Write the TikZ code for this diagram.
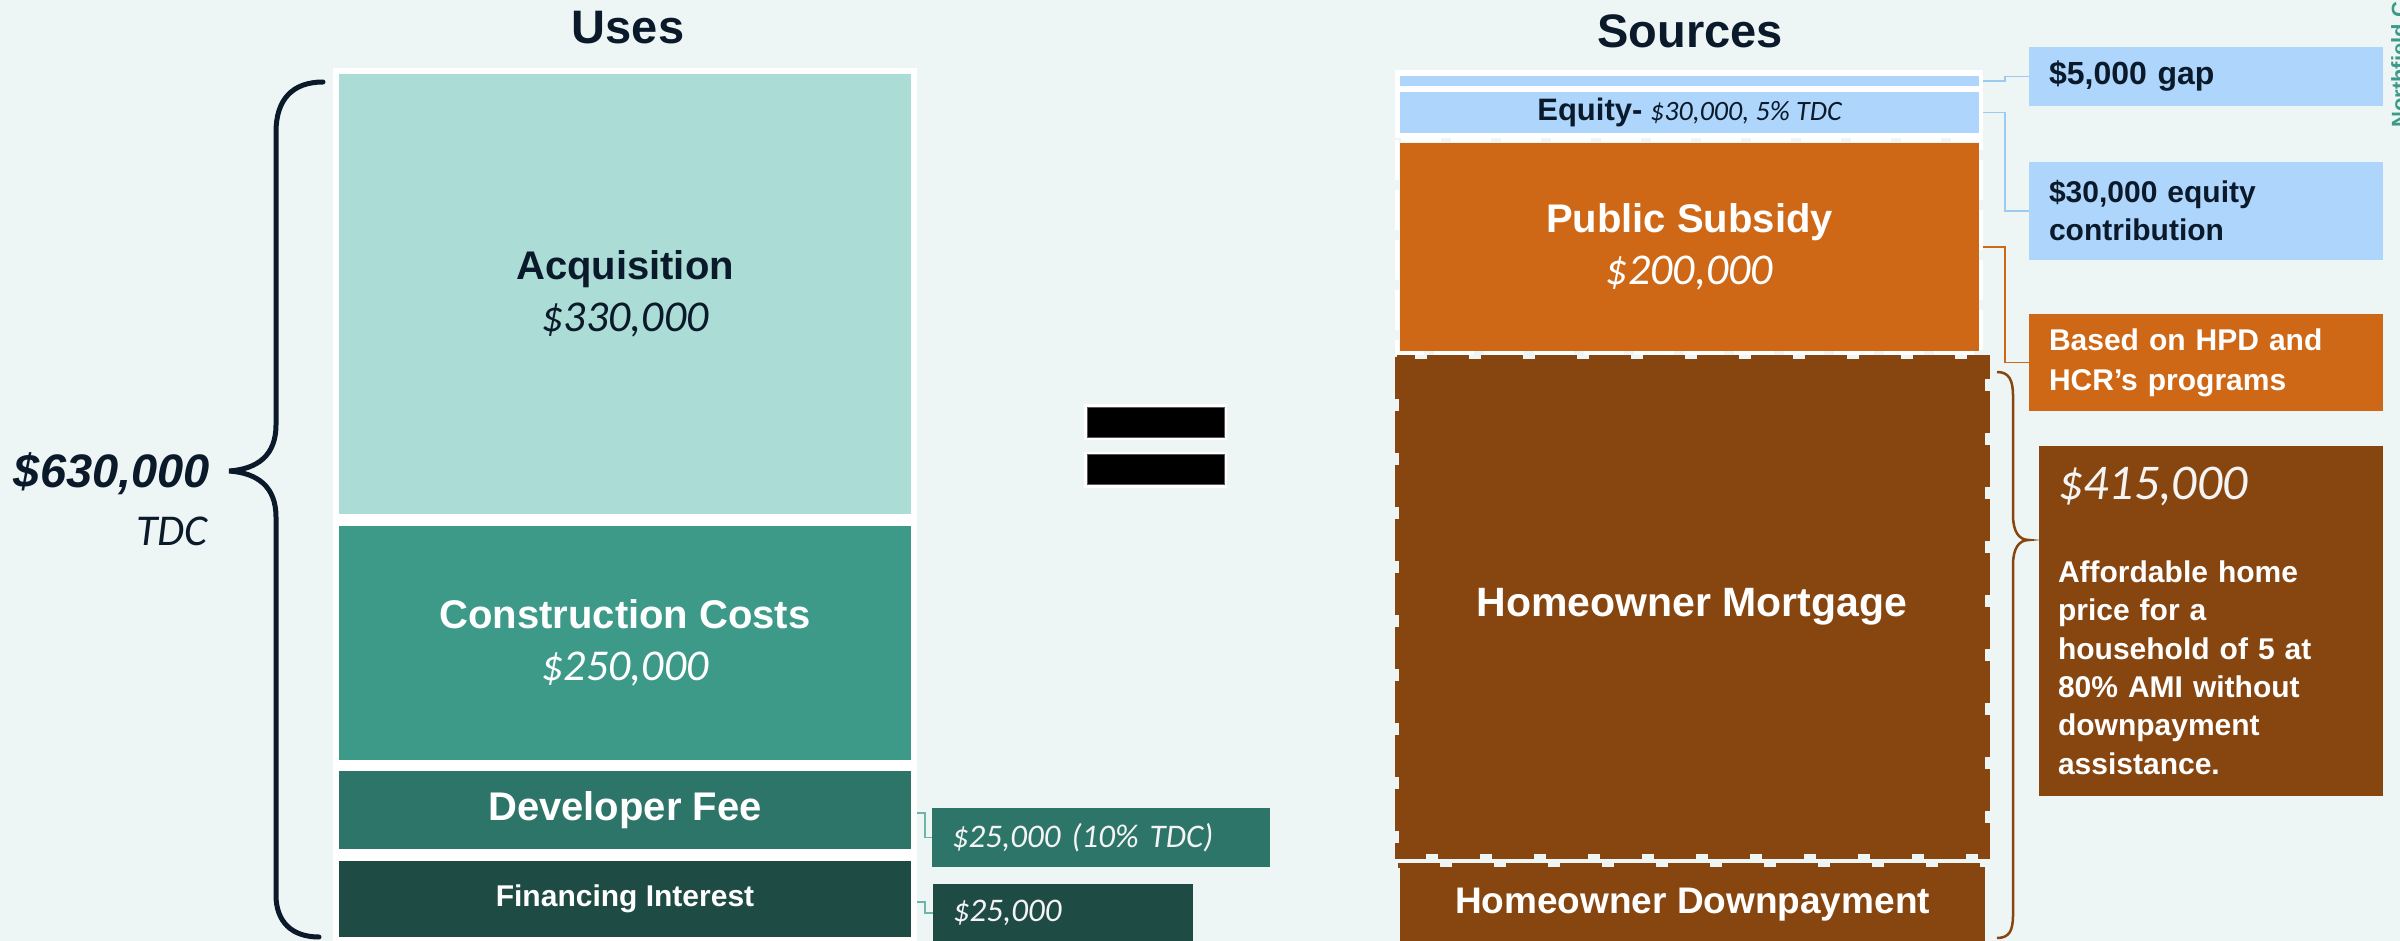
\documentclass[tikz,border=0pt]{standalone}
\usepackage{fontspec}
\setmainfont{Liberation Sans}
\newfontfamily\calfont{Carlito}
\usetikzlibrary{calc}

\definecolor{bg}{HTML}{EEF6F5}
\definecolor{navy}{HTML}{0B1A2B}
\definecolor{acqc}{HTML}{ABDDD6}
\definecolor{consc}{HTML}{3D9A89}
\definecolor{devc}{HTML}{2D7569}
\definecolor{finc}{HTML}{1F4B45}
\definecolor{skyc}{HTML}{AED6FC}
\definecolor{orangec}{HTML}{CF6816}
\definecolor{brownc}{HTML}{87450F}
\definecolor{tealtxt}{HTML}{3D9A89}
\definecolor{tealline}{HTML}{6DB5A8}
\definecolor{skyline}{HTML}{9CCBF2}
\definecolor{softwhite}{HTML}{F4F4F4}

\newcommand\fsz[2]{\fontsize{#1}{#2}\selectfont}
\newcommand\lbl[1]{{\fsz{40}{52}\bfseries #1}}
\newcommand\amt[1]{{\fsz{44}{52}\calfont\itshape #1}}

\tikzset{
  x=1pt, y=-1pt,
  blk/.style={rectangle, inner sep=0pt, outer sep=0pt, align=center, font=\fsz{40}{52}},
  callout/.style={rectangle, inner xsep=20pt, inner ysep=0pt, outer sep=0pt, align=left},
  callbold/.style={callout, font=\fsz{30}{38}\bfseries},
  callital/.style={callout, font=\fsz{33}{38}\calfont\itshape, text=softwhite},
  conn/.style={line width=1.6pt},
  title/.style={font=\fsz{47}{52}\bfseries, text=navy, inner sep=0pt},
  bar/.style={rectangle, fill=black, draw=black!65, line width=1pt, inner sep=0pt,
              minimum width=137pt, minimum height=30pt},
  glow/.style={fill=white, rectangle, inner sep=0pt, minimum width=143pt, minimum height=36pt},
}

\begin{document}
\begin{tikzpicture}
\useasboundingbox (0,0) rectangle (2400,941);
\fill[bg] (0,0) rectangle (2400,941);
\clip (0,0) rectangle (2400,941);

% ---------- titles ----------
\node[title] (usesT) at (628,28) {Uses};
\node[title] (srcT) at (1690,31) {Sources};

% ---------- uses stack ----------
\fill[white] (333,68) rectangle (917,945);
\node[blk, fill=acqc, text=navy, minimum width=572pt, minimum height=440pt] (acq) at (625,294)
  {\lbl{Acquisition}\\\amt{\$330,000}};
\node[blk, fill=consc, text=white, minimum width=572pt, minimum height=234pt] (cons) at (625,643)
  {\lbl{Construction Costs}\\\amt{\$250,000}};
\node[blk, fill=devc, text=white, minimum width=572pt, minimum height=78pt] (dev) at (625,810)
  {\lbl{Developer Fee}};
\node[blk, fill=finc, text=white, minimum width=572pt, minimum height=76pt, font=\fsz{30}{36}\bfseries] (fin) at (625,899)
  {Financing Interest};

% total brace
\draw[navy, line width=5pt, line cap=round]
  (323,82) .. controls (292,82) and (276,100) .. (276,132) -- (276,425)
  .. controls (276,455) and (258,469) .. (229,471)
  .. controls (258,473) and (276,487) .. (276,517) -- (276,895)
  .. controls (276,922) and (292,937) .. (319,937);
\node[text=navy, font=\fsz{47}{52}\bfseries\itshape, inner sep=0pt] (tdc) at (112,474) {\$630,000};
\node[text=navy, font=\fsz{44}{48}\calfont\itshape, inner sep=0pt] (tdcT) at (172,531) {TDC};

% left callouts
\node[callital, fill=devc, text width=298pt, minimum height=59pt] (devC) at (1101,837.5) {\$25,000 (10\% TDC)};
\node[callital, fill=finc, text width=220pt, minimum height=58pt] (finC) at (1063,913) {\$25,000};
\draw[conn, tealline] ([xshift=6pt, yshift=-3pt]dev.east) -| ([xshift=-7pt]devC.west) -- (devC.west);
\draw[conn, tealline] ([xshift=6pt, yshift=-3pt]fin.east) -| ([xshift=-8pt]finC.west) -- (finC.west);

% ---------- equals sign ----------
\node[glow] (eqTopG) at (1155.5,422) {};
\node[glow] (eqBotG) at (1155.5,469.5) {};
\node[bar] (eqTop) at (1155.5,422) {};
\node[bar] (eqBot) at (1155.5,469.5) {};

% ---------- sources stack ----------
\fill[white] (1395,70) rectangle (1983,138);
\node[blk, fill=skyc, minimum width=579pt, minimum height=10pt] (gap) at (1689.5,81) {};
\node[blk, fill=skyc, text=navy, minimum width=579pt, minimum height=41pt, font=\fsz{28}{32}] (eq) at (1689.5,112.5)
  {{\fsz{31}{32}\bfseries Equity-} {\calfont\itshape \$30,000, 5\% TDC}};
\draw[white, line width=4pt, dash pattern=on 40pt off 10pt] (1397,140) rectangle (1981,353);
\node[blk, fill=orangec, text=white, minimum width=579pt, minimum height=208pt] (pub) at (1689.5,247)
  {\lbl{Public Subsidy}\\\amt{\$200,000}};
\node[blk, fill=brownc, text=white, minimum width=586pt, minimum height=495pt, font=\fsz{41}{48}\bfseries] (mort) at (1692,606.5)
  {Homeowner Mortgage};
\draw[brownc, line width=5pt, dash pattern=on 42pt off 12pt]
  ([shift={(-2,-2)}]mort.north west) rectangle ([shift={(2,2)}]mort.south east);
\node[blk, fill=brownc, text=white, minimum width=585pt, minimum height=76pt, font=\fsz{37}{44}\bfseries] (down) at (1692.5,905)
  {Homeowner Downpayment};
\draw[brownc, line width=5pt, dash pattern=on 42pt off 12pt]
  ([shift={(-2,-2)}]down.north west) -- ([shift={(2,-2)}]down.north east);

% right callouts
\node[callbold, fill=skyc, text=navy, text width=314pt, minimum height=59pt, font=\fsz{32}{38}\bfseries] (gapC) at (2206,76.5) {\$5,000 gap};
\node[callbold, fill=skyc, text=navy, text width=314pt, minimum height=98pt] (eqC) at (2206,211)
  {\$30,000 equity\\contribution};
\node[callbold, fill=orangec, text=white, text width=314pt, minimum height=97pt, font=\fsz{30}{40}\bfseries] (pubC) at (2206,362.5)
  {Based on HPD and\\HCR’s programs};
\node[callbold, fill=brownc, text=white, text width=306pt, inner xsep=19pt, minimum height=350pt, font=\fsz{30}{38.4}\bfseries] (priceC) at (2211,621)
  {{\fsz{50}{52}\mdseries\calfont\itshape\color{softwhite}\$415,000}\\[44pt]
   Affordable home\\price for a\\household of 5 at\\80\% AMI without\\downpayment\\assistance.};

\draw[conn, skyline] ([xshift=4pt]gap.east) -| ([xshift=-24pt]gapC.west) -- (gapC.west);
\draw[conn, skyline] ([xshift=4pt]eq.east) -| ([xshift=-24pt]eqC.west) -- (eqC.west);
\draw[conn, orangec] ([xshift=4pt]pub.east) -| ([xshift=-24pt]pubC.west) -- (pubC.west);

% financing brace
\draw[brownc, line width=2.5pt]
  (1997,372) .. controls (2009,372) and (2013,380) .. (2013,396) -- (2013,515)
  .. controls (2013,532) and (2019,540) .. (2029,540)
  .. controls (2019,540) and (2013,548) .. (2013,565) -- (2013,915)
  .. controls (2013,931) and (2009,938) .. (1997,938);

% side tab
\node[rotate=90, anchor=base west, text=tealtxt, font=\fsz{22}{24}\bfseries, inner sep=0pt] (tab) at (2407,128) {Northfield C};
\end{tikzpicture}
\end{document}
